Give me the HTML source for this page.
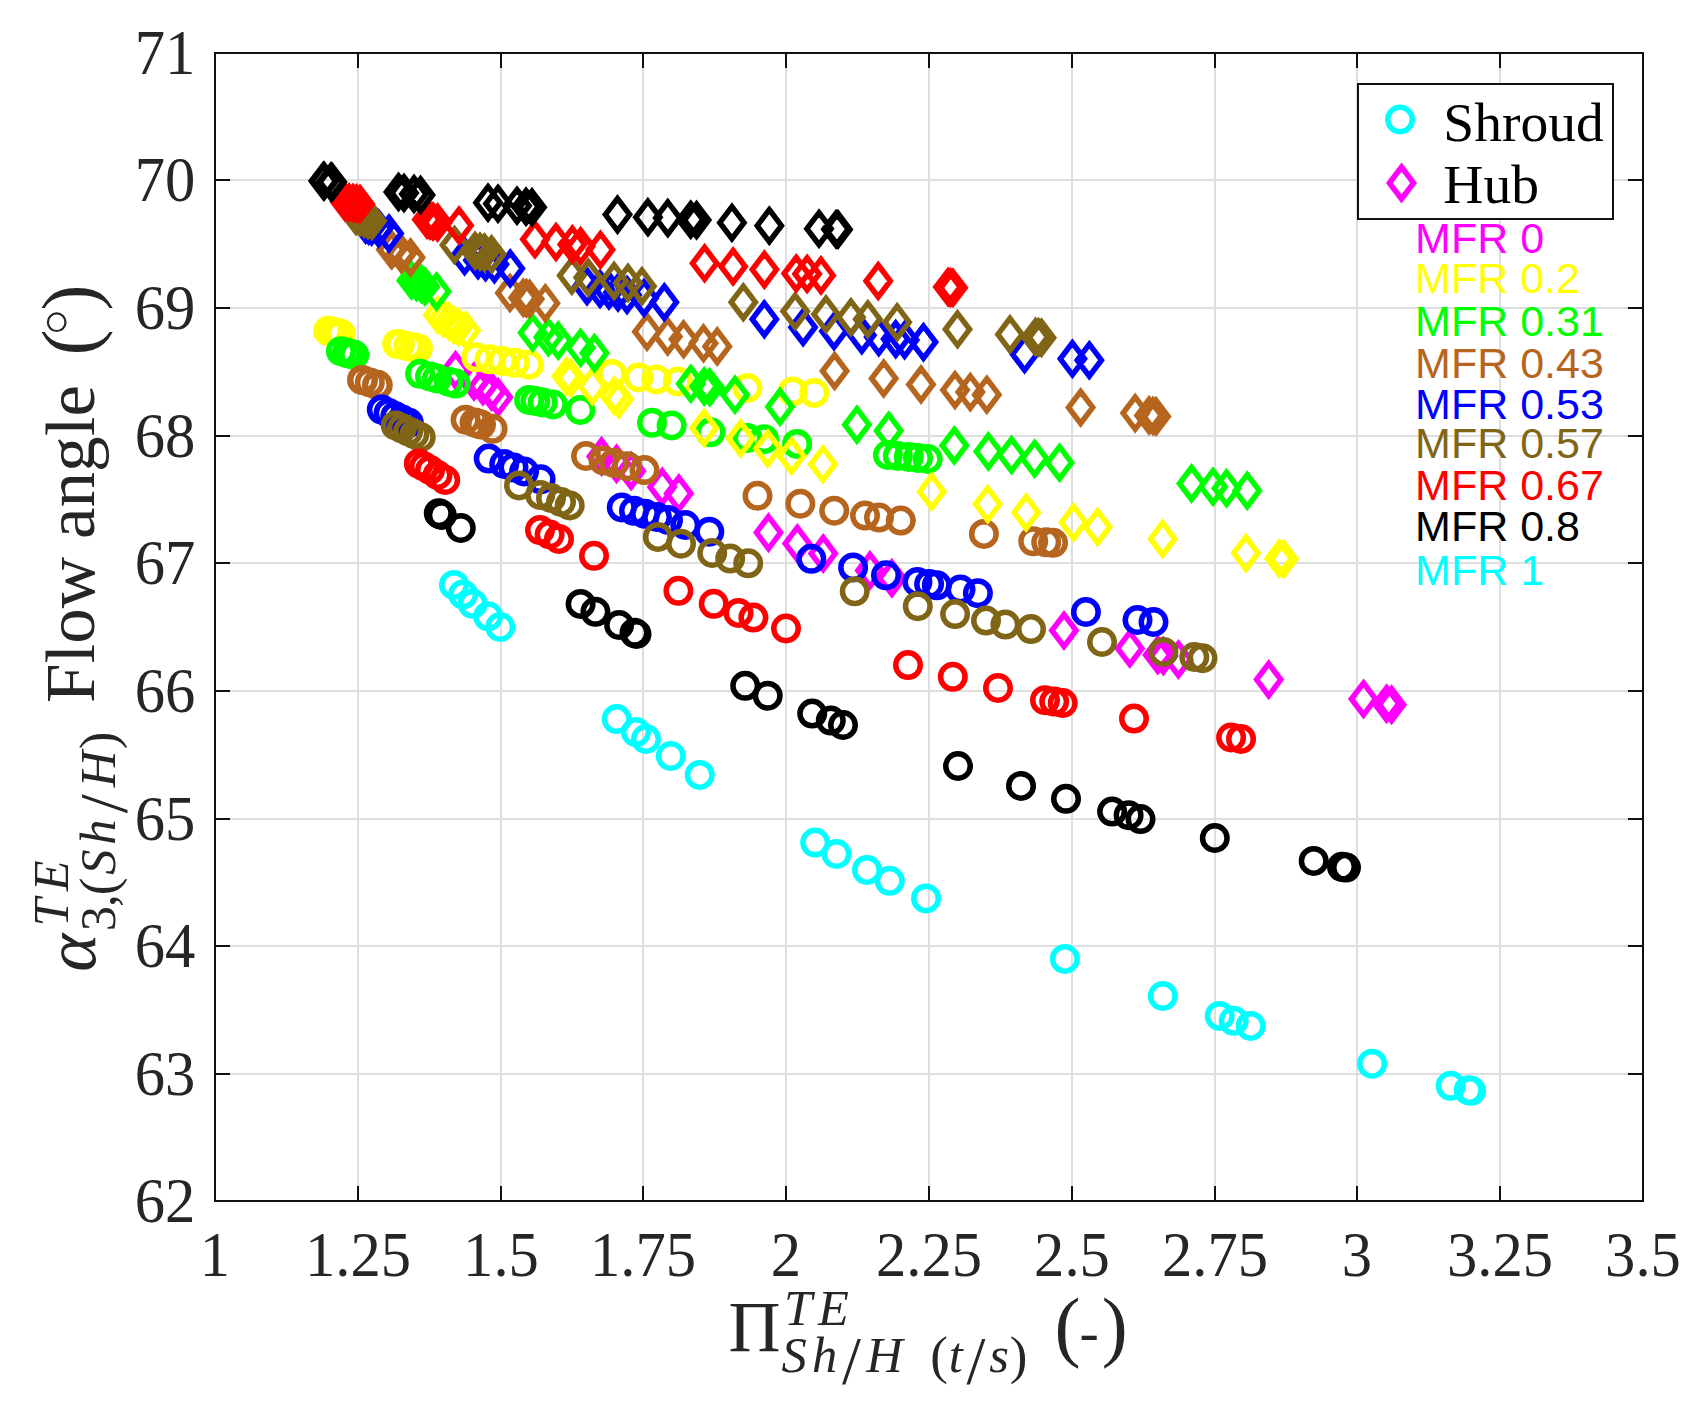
<!DOCTYPE html>
<html lang="en"><head><meta charset="utf-8"><title>Flow angle vs pressure ratio</title>
<style>html,body{margin:0;padding:0;background:#fff}svg{display:block}.t{font-family:"Liberation Serif",serif;font-size:63.5px;fill:#262626}.l{font-family:"Liberation Serif",serif;fill:#262626}.s{font-family:"Liberation Sans",sans-serif;font-size:43px}.g{stroke:#dedede;stroke-width:2;shape-rendering:crispEdges}.a{stroke:#111;stroke-width:2;fill:none;shape-rendering:crispEdges}.c{fill:none;stroke-width:5.5}.d{fill:none;stroke-width:5.5;stroke-linejoin:miter;stroke-miterlimit:10}</style></head><body>
<svg width="1708" height="1417" viewBox="0 0 1708 1417">
<rect width="1708" height="1417" fill="#fff"/>
<path class="g" d="M358 53.0V1201.0M501 53.0V1201.0M643 53.0V1201.0M786 53.0V1201.0M929 53.0V1201.0M1072 53.0V1201.0M1215 53.0V1201.0M1357 53.0V1201.0M1500 53.0V1201.0M215.0 1074H1643.0M215.0 946H1643.0M215.0 819H1643.0M215.0 691H1643.0M215.0 563H1643.0M215.0 436H1643.0M215.0 308H1643.0M215.0 180H1643.0"/>
<path class="d" stroke="#ff00ff" d="M455.5 354.2l12.1 16.0l-12.1 16.0l-12.1 -16.0zM474.0 365.5l12.1 16.0l-12.1 16.0l-12.1 -16.0zM483.0 370.3l12.1 16.0l-12.1 16.0l-12.1 -16.0zM491.5 375.5l12.1 16.0l-12.1 16.0l-12.1 -16.0zM498.2 381.3l12.1 16.0l-12.1 16.0l-12.1 -16.0zM601.5 440.4l12.1 16.0l-12.1 16.0l-12.1 -16.0zM616.5 447.7l12.1 16.0l-12.1 16.0l-12.1 -16.0zM631.1 455.0l12.1 16.0l-12.1 16.0l-12.1 -16.0zM662.2 470.9l12.1 16.0l-12.1 16.0l-12.1 -16.0zM678.8 477.5l12.1 16.0l-12.1 16.0l-12.1 -16.0zM768.5 516.6l12.1 16.0l-12.1 16.0l-12.1 -16.0zM797.3 527.5l12.1 16.0l-12.1 16.0l-12.1 -16.0zM823.2 537.5l12.1 16.0l-12.1 16.0l-12.1 -16.0zM870.0 554.4l12.1 16.0l-12.1 16.0l-12.1 -16.0zM891.9 562.3l12.1 16.0l-12.1 16.0l-12.1 -16.0zM1064.0 614.5l12.1 16.0l-12.1 16.0l-12.1 -16.0zM1129.8 632.4l12.1 16.0l-12.1 16.0l-12.1 -16.0zM1157.7 639.0l12.1 16.0l-12.1 16.0l-12.1 -16.0zM1163.3 640.0l12.1 16.0l-12.1 16.0l-12.1 -16.0zM1178.4 643.5l12.1 16.0l-12.1 16.0l-12.1 -16.0zM1268.7 663.6l12.1 16.0l-12.1 16.0l-12.1 -16.0zM1363.5 683.0l12.1 16.0l-12.1 16.0l-12.1 -16.0zM1386.6 687.7l12.1 16.0l-12.1 16.0l-12.1 -16.0zM1391.6 688.7l12.1 16.0l-12.1 16.0l-12.1 -16.0z"/>
<g class="c" stroke="#ffff00"><circle cx="328.2" cy="330.8" r="12.25"/><circle cx="331.3" cy="331.5" r="12.25"/><circle cx="334.4" cy="332.2" r="12.25"/><circle cx="337.5" cy="333.0" r="12.25"/><circle cx="340.6" cy="333.7" r="12.25"/><circle cx="397.2" cy="343.9" r="12.25"/><circle cx="399.9" cy="344.5" r="12.25"/><circle cx="408.1" cy="346.3" r="12.25"/><circle cx="413.9" cy="347.5" r="12.25"/><circle cx="417.9" cy="348.4" r="12.25"/><circle cx="476.3" cy="357.3" r="12.25"/><circle cx="489.5" cy="359.3" r="12.25"/><circle cx="502.3" cy="361.0" r="12.25"/><circle cx="514.8" cy="362.8" r="12.25"/><circle cx="528.9" cy="364.7" r="12.25"/><circle cx="612.0" cy="373.9" r="12.25"/><circle cx="638.5" cy="377.4" r="12.25"/><circle cx="656.3" cy="379.4" r="12.25"/><circle cx="677.8" cy="381.4" r="12.25"/><circle cx="747.5" cy="388.0" r="12.25"/><circle cx="792.7" cy="391.4" r="12.25"/><circle cx="814.2" cy="392.9" r="12.25"/></g>
<g class="c" stroke="#00ff00"><circle cx="340.9" cy="351.2" r="12.25"/><circle cx="346.7" cy="352.8" r="12.25"/><circle cx="348.4" cy="353.3" r="12.25"/><circle cx="352.7" cy="354.4" r="12.25"/><circle cx="354.2" cy="354.8" r="12.25"/><circle cx="420.1" cy="373.8" r="12.25"/><circle cx="430.0" cy="376.5" r="12.25"/><circle cx="437.0" cy="378.5" r="12.25"/><circle cx="448.7" cy="381.7" r="12.25"/><circle cx="455.7" cy="383.6" r="12.25"/><circle cx="529.1" cy="399.9" r="12.25"/><circle cx="535.3" cy="401.0" r="12.25"/><circle cx="542.6" cy="402.5" r="12.25"/><circle cx="552.9" cy="404.5" r="12.25"/><circle cx="580.3" cy="410.0" r="12.25"/><circle cx="652.0" cy="422.8" r="12.25"/><circle cx="671.6" cy="425.5" r="12.25"/><circle cx="710.5" cy="432.3" r="12.25"/><circle cx="747.5" cy="437.9" r="12.25"/><circle cx="764.1" cy="439.2" r="12.25"/><circle cx="797.1" cy="443.9" r="12.25"/><circle cx="887.9" cy="455.0" r="12.25"/><circle cx="897.8" cy="455.9" r="12.25"/><circle cx="908.8" cy="456.9" r="12.25"/><circle cx="918.0" cy="458.0" r="12.25"/><circle cx="927.7" cy="459.0" r="12.25"/></g>
<g class="c" stroke="#b5651d"><circle cx="362.0" cy="379.9" r="12.25"/><circle cx="363.0" cy="380.2" r="12.25"/><circle cx="369.8" cy="382.4" r="12.25"/><circle cx="377.0" cy="384.8" r="12.25"/><circle cx="377.8" cy="385.0" r="12.25"/><circle cx="465.6" cy="419.7" r="12.25"/><circle cx="474.5" cy="422.5" r="12.25"/><circle cx="477.5" cy="423.5" r="12.25"/><circle cx="481.0" cy="424.6" r="12.25"/><circle cx="492.6" cy="428.8" r="12.25"/><circle cx="586.0" cy="456.0" r="12.25"/><circle cx="603.5" cy="460.4" r="12.25"/><circle cx="614.0" cy="463.0" r="12.25"/><circle cx="627.3" cy="466.2" r="12.25"/><circle cx="644.5" cy="470.1" r="12.25"/><circle cx="757.5" cy="495.8" r="12.25"/><circle cx="800.3" cy="503.7" r="12.25"/><circle cx="834.2" cy="510.7" r="12.25"/><circle cx="865.0" cy="515.6" r="12.25"/><circle cx="879.0" cy="517.6" r="12.25"/><circle cx="900.8" cy="520.6" r="12.25"/><circle cx="983.9" cy="533.9" r="12.25"/><circle cx="1033.2" cy="541.3" r="12.25"/><circle cx="1046.2" cy="542.3" r="12.25"/><circle cx="1053.0" cy="542.8" r="12.25"/></g>
<g class="c" stroke="#0000ff"><circle cx="381.8" cy="409.6" r="12.25"/><circle cx="388.6" cy="412.9" r="12.25"/><circle cx="395.3" cy="416.2" r="12.25"/><circle cx="402.1" cy="419.5" r="12.25"/><circle cx="408.8" cy="422.8" r="12.25"/><circle cx="488.7" cy="458.6" r="12.25"/><circle cx="504.2" cy="464.0" r="12.25"/><circle cx="513.5" cy="467.5" r="12.25"/><circle cx="524.1" cy="471.5" r="12.25"/><circle cx="540.6" cy="479.3" r="12.25"/><circle cx="621.8" cy="507.4" r="12.25"/><circle cx="634.0" cy="510.8" r="12.25"/><circle cx="645.0" cy="513.8" r="12.25"/><circle cx="657.0" cy="517.0" r="12.25"/><circle cx="668.0" cy="520.0" r="12.25"/><circle cx="685.3" cy="525.0" r="12.25"/><circle cx="709.3" cy="531.7" r="12.25"/><circle cx="811.3" cy="558.8" r="12.25"/><circle cx="853.1" cy="567.4" r="12.25"/><circle cx="886.0" cy="575.3" r="12.25"/><circle cx="917.4" cy="581.9" r="12.25"/><circle cx="929.1" cy="584.0" r="12.25"/><circle cx="936.8" cy="585.3" r="12.25"/><circle cx="960.5" cy="589.5" r="12.25"/><circle cx="977.9" cy="593.2" r="12.25"/><circle cx="1085.9" cy="612.0" r="12.25"/><circle cx="1137.5" cy="620.0" r="12.25"/><circle cx="1153.5" cy="622.0" r="12.25"/></g>
<g class="c" stroke="#806517"><circle cx="395.7" cy="425.4" r="12.25"/><circle cx="401.9" cy="428.3" r="12.25"/><circle cx="408.2" cy="431.3" r="12.25"/><circle cx="414.4" cy="434.2" r="12.25"/><circle cx="420.7" cy="437.2" r="12.25"/><circle cx="519.0" cy="485.4" r="12.25"/><circle cx="540.2" cy="494.9" r="12.25"/><circle cx="551.0" cy="498.0" r="12.25"/><circle cx="561.0" cy="502.0" r="12.25"/><circle cx="569.7" cy="505.4" r="12.25"/><circle cx="657.9" cy="536.9" r="12.25"/><circle cx="681.0" cy="543.7" r="12.25"/><circle cx="712.2" cy="553.0" r="12.25"/><circle cx="730.2" cy="558.6" r="12.25"/><circle cx="748.2" cy="563.3" r="12.25"/><circle cx="854.7" cy="591.3" r="12.25"/><circle cx="917.8" cy="606.2" r="12.25"/><circle cx="955.1" cy="614.1" r="12.25"/><circle cx="986.0" cy="620.6" r="12.25"/><circle cx="1005.4" cy="624.6" r="12.25"/><circle cx="1031.0" cy="629.1" r="12.25"/><circle cx="1102.0" cy="642.0" r="12.25"/><circle cx="1163.4" cy="651.9" r="12.25"/><circle cx="1194.3" cy="657.0" r="12.25"/><circle cx="1202.5" cy="658.2" r="12.25"/></g>
<g class="c" stroke="#ff0000"><circle cx="418.8" cy="463.6" r="12.25"/><circle cx="424.0" cy="466.5" r="12.25"/><circle cx="430.0" cy="470.0" r="12.25"/><circle cx="437.5" cy="475.0" r="12.25"/><circle cx="445.2" cy="480.0" r="12.25"/><circle cx="540.0" cy="530.1" r="12.25"/><circle cx="549.6" cy="534.5" r="12.25"/><circle cx="559.0" cy="538.9" r="12.25"/><circle cx="594.0" cy="555.8" r="12.25"/><circle cx="678.4" cy="590.8" r="12.25"/><circle cx="713.7" cy="603.8" r="12.25"/><circle cx="738.5" cy="612.9" r="12.25"/><circle cx="753.4" cy="617.6" r="12.25"/><circle cx="786.0" cy="628.5" r="12.25"/><circle cx="908.0" cy="665.1" r="12.25"/><circle cx="952.8" cy="676.8" r="12.25"/><circle cx="998.0" cy="688.0" r="12.25"/><circle cx="1045.0" cy="700.2" r="12.25"/><circle cx="1054.2" cy="701.6" r="12.25"/><circle cx="1062.7" cy="703.0" r="12.25"/><circle cx="1134.0" cy="718.6" r="12.25"/><circle cx="1231.1" cy="737.5" r="12.25"/><circle cx="1241.0" cy="738.9" r="12.25"/></g>
<g class="c" stroke="#000000"><circle cx="438.8" cy="513.2" r="12.25"/><circle cx="439.8" cy="513.8" r="12.25"/><circle cx="440.8" cy="514.4" r="12.25"/><circle cx="441.8" cy="515.0" r="12.25"/><circle cx="460.8" cy="528.0" r="12.25"/><circle cx="580.6" cy="603.9" r="12.25"/><circle cx="595.4" cy="611.8" r="12.25"/><circle cx="619.1" cy="625.0" r="12.25"/><circle cx="634.5" cy="632.8" r="12.25"/><circle cx="636.5" cy="634.0" r="12.25"/><circle cx="745.2" cy="685.8" r="12.25"/><circle cx="767.7" cy="695.7" r="12.25"/><circle cx="812.2" cy="713.6" r="12.25"/><circle cx="830.8" cy="720.6" r="12.25"/><circle cx="843.0" cy="725.0" r="12.25"/><circle cx="958.0" cy="766.0" r="12.25"/><circle cx="1021.0" cy="785.9" r="12.25"/><circle cx="1066.0" cy="798.8" r="12.25"/><circle cx="1112.1" cy="811.6" r="12.25"/><circle cx="1128.6" cy="815.2" r="12.25"/><circle cx="1140.5" cy="819.1" r="12.25"/><circle cx="1214.8" cy="838.0" r="12.25"/><circle cx="1313.7" cy="860.9" r="12.25"/><circle cx="1342.0" cy="866.8" r="12.25"/><circle cx="1344.0" cy="867.2" r="12.25"/><circle cx="1346.0" cy="867.6" r="12.25"/></g>
<g class="c" stroke="#00ffff"><circle cx="454.0" cy="584.9" r="12.25"/><circle cx="463.1" cy="594.4" r="12.25"/><circle cx="472.7" cy="603.8" r="12.25"/><circle cx="488.2" cy="616.3" r="12.25"/><circle cx="500.2" cy="627.0" r="12.25"/><circle cx="616.7" cy="719.1" r="12.25"/><circle cx="636.0" cy="732.1" r="12.25"/><circle cx="646.0" cy="739.0" r="12.25"/><circle cx="670.8" cy="756.0" r="12.25"/><circle cx="699.7" cy="774.9" r="12.25"/><circle cx="815.2" cy="842.6" r="12.25"/><circle cx="836.5" cy="854.0" r="12.25"/><circle cx="867.0" cy="869.9" r="12.25"/><circle cx="889.7" cy="880.8" r="12.25"/><circle cx="926.0" cy="898.4" r="12.25"/><circle cx="1064.9" cy="958.9" r="12.25"/><circle cx="1162.8" cy="996.0" r="12.25"/><circle cx="1219.7" cy="1015.9" r="12.25"/><circle cx="1233.7" cy="1020.8" r="12.25"/><circle cx="1250.7" cy="1025.9" r="12.25"/><circle cx="1372.1" cy="1063.7" r="12.25"/><circle cx="1450.7" cy="1085.8" r="12.25"/><circle cx="1468.7" cy="1090.2" r="12.25"/><circle cx="1471.0" cy="1090.8" r="12.25"/></g>
<path class="d" stroke="#ffff00" d="M438.0 299.0l12.1 16.0l-12.1 16.0l-12.1 -16.0zM443.5 302.3l12.1 16.0l-12.1 16.0l-12.1 -16.0zM449.0 305.5l12.1 16.0l-12.1 16.0l-12.1 -16.0zM453.6 308.7l12.1 16.0l-12.1 16.0l-12.1 -16.0zM458.5 311.0l12.1 16.0l-12.1 16.0l-12.1 -16.0zM466.0 314.5l12.1 16.0l-12.1 16.0l-12.1 -16.0zM566.6 360.3l12.1 16.0l-12.1 16.0l-12.1 -16.0zM571.0 362.0l12.1 16.0l-12.1 16.0l-12.1 -16.0zM592.4 370.3l12.1 16.0l-12.1 16.0l-12.1 -16.0zM614.2 379.6l12.1 16.0l-12.1 16.0l-12.1 -16.0zM619.0 383.2l12.1 16.0l-12.1 16.0l-12.1 -16.0zM704.2 412.0l12.1 16.0l-12.1 16.0l-12.1 -16.0zM740.7 422.5l12.1 16.0l-12.1 16.0l-12.1 -16.0zM767.8 432.5l12.1 16.0l-12.1 16.0l-12.1 -16.0zM791.6 440.0l12.1 16.0l-12.1 16.0l-12.1 -16.0zM822.9 448.2l12.1 16.0l-12.1 16.0l-12.1 -16.0zM931.7 475.7l12.1 16.0l-12.1 16.0l-12.1 -16.0zM987.7 488.1l12.1 16.0l-12.1 16.0l-12.1 -16.0zM1026.2 496.5l12.1 16.0l-12.1 16.0l-12.1 -16.0zM1073.6 506.4l12.1 16.0l-12.1 16.0l-12.1 -16.0zM1097.6 511.0l12.1 16.0l-12.1 16.0l-12.1 -16.0zM1162.7 522.9l12.1 16.0l-12.1 16.0l-12.1 -16.0zM1246.0 537.1l12.1 16.0l-12.1 16.0l-12.1 -16.0zM1279.3 542.5l12.1 16.0l-12.1 16.0l-12.1 -16.0zM1283.8 543.1l12.1 16.0l-12.1 16.0l-12.1 -16.0z"/>
<path class="d" stroke="#00ff00" d="M411.5 264.5l12.1 16.0l-12.1 16.0l-12.1 -16.0zM416.5 266.0l12.1 16.0l-12.1 16.0l-12.1 -16.0zM421.5 268.0l12.1 16.0l-12.1 16.0l-12.1 -16.0zM425.0 270.5l12.1 16.0l-12.1 16.0l-12.1 -16.0zM436.5 275.5l12.1 16.0l-12.1 16.0l-12.1 -16.0zM532.7 316.8l12.1 16.0l-12.1 16.0l-12.1 -16.0zM548.4 321.3l12.1 16.0l-12.1 16.0l-12.1 -16.0zM558.2 324.6l12.1 16.0l-12.1 16.0l-12.1 -16.0zM580.5 331.8l12.1 16.0l-12.1 16.0l-12.1 -16.0zM594.5 337.1l12.1 16.0l-12.1 16.0l-12.1 -16.0zM690.8 367.8l12.1 16.0l-12.1 16.0l-12.1 -16.0zM704.2 370.4l12.1 16.0l-12.1 16.0l-12.1 -16.0zM709.8 371.3l12.1 16.0l-12.1 16.0l-12.1 -16.0zM735.0 378.8l12.1 16.0l-12.1 16.0l-12.1 -16.0zM780.0 390.8l12.1 16.0l-12.1 16.0l-12.1 -16.0zM856.9 408.7l12.1 16.0l-12.1 16.0l-12.1 -16.0zM888.7 414.7l12.1 16.0l-12.1 16.0l-12.1 -16.0zM954.3 429.5l12.1 16.0l-12.1 16.0l-12.1 -16.0zM988.4 435.4l12.1 16.0l-12.1 16.0l-12.1 -16.0zM1011.5 439.0l12.1 16.0l-12.1 16.0l-12.1 -16.0zM1034.6 442.7l12.1 16.0l-12.1 16.0l-12.1 -16.0zM1059.5 446.7l12.1 16.0l-12.1 16.0l-12.1 -16.0zM1191.5 467.5l12.1 16.0l-12.1 16.0l-12.1 -16.0zM1213.0 470.7l12.1 16.0l-12.1 16.0l-12.1 -16.0zM1226.5 472.3l12.1 16.0l-12.1 16.0l-12.1 -16.0zM1247.2 474.7l12.1 16.0l-12.1 16.0l-12.1 -16.0z"/>
<path class="d" stroke="#b5651d" d="M391.0 233.5l12.1 16.0l-12.1 16.0l-12.1 -16.0zM392.0 233.9l12.1 16.0l-12.1 16.0l-12.1 -16.0zM400.8 237.5l12.1 16.0l-12.1 16.0l-12.1 -16.0zM401.8 237.9l12.1 16.0l-12.1 16.0l-12.1 -16.0zM410.5 241.5l12.1 16.0l-12.1 16.0l-12.1 -16.0zM510.0 277.0l12.1 16.0l-12.1 16.0l-12.1 -16.0zM523.2 281.7l12.1 16.0l-12.1 16.0l-12.1 -16.0zM526.5 282.3l12.1 16.0l-12.1 16.0l-12.1 -16.0zM529.6 282.9l12.1 16.0l-12.1 16.0l-12.1 -16.0zM545.3 287.2l12.1 16.0l-12.1 16.0l-12.1 -16.0zM647.0 315.7l12.1 16.0l-12.1 16.0l-12.1 -16.0zM667.7 320.4l12.1 16.0l-12.1 16.0l-12.1 -16.0zM683.6 323.3l12.1 16.0l-12.1 16.0l-12.1 -16.0zM703.5 327.3l12.1 16.0l-12.1 16.0l-12.1 -16.0zM717.2 330.4l12.1 16.0l-12.1 16.0l-12.1 -16.0zM834.6 355.0l12.1 16.0l-12.1 16.0l-12.1 -16.0zM883.7 362.5l12.1 16.0l-12.1 16.0l-12.1 -16.0zM921.0 368.5l12.1 16.0l-12.1 16.0l-12.1 -16.0zM955.0 374.0l12.1 16.0l-12.1 16.0l-12.1 -16.0zM970.3 376.1l12.1 16.0l-12.1 16.0l-12.1 -16.0zM986.8 378.7l12.1 16.0l-12.1 16.0l-12.1 -16.0zM1080.6 391.5l12.1 16.0l-12.1 16.0l-12.1 -16.0zM1135.2 397.1l12.1 16.0l-12.1 16.0l-12.1 -16.0zM1149.1 399.4l12.1 16.0l-12.1 16.0l-12.1 -16.0zM1153.0 400.0l12.1 16.0l-12.1 16.0l-12.1 -16.0zM1156.1 400.4l12.1 16.0l-12.1 16.0l-12.1 -16.0z"/>
<path class="d" stroke="#0000ff" d="M365.6 208.5l12.1 16.0l-12.1 16.0l-12.1 -16.0zM368.6 209.5l12.1 16.0l-12.1 16.0l-12.1 -16.0zM371.6 210.5l12.1 16.0l-12.1 16.0l-12.1 -16.0zM378.6 212.5l12.1 16.0l-12.1 16.0l-12.1 -16.0zM389.0 217.5l12.1 16.0l-12.1 16.0l-12.1 -16.0zM464.6 240.3l12.1 16.0l-12.1 16.0l-12.1 -16.0zM478.0 244.3l12.1 16.0l-12.1 16.0l-12.1 -16.0zM485.5 246.3l12.1 16.0l-12.1 16.0l-12.1 -16.0zM494.4 248.3l12.1 16.0l-12.1 16.0l-12.1 -16.0zM510.2 252.5l12.1 16.0l-12.1 16.0l-12.1 -16.0zM587.0 270.2l12.1 16.0l-12.1 16.0l-12.1 -16.0zM600.0 273.0l12.1 16.0l-12.1 16.0l-12.1 -16.0zM609.0 274.5l12.1 16.0l-12.1 16.0l-12.1 -16.0zM618.0 276.5l12.1 16.0l-12.1 16.0l-12.1 -16.0zM627.0 279.0l12.1 16.0l-12.1 16.0l-12.1 -16.0zM644.0 282.0l12.1 16.0l-12.1 16.0l-12.1 -16.0zM664.3 286.2l12.1 16.0l-12.1 16.0l-12.1 -16.0zM764.3 303.2l12.1 16.0l-12.1 16.0l-12.1 -16.0zM803.1 311.2l12.1 16.0l-12.1 16.0l-12.1 -16.0zM834.0 315.2l12.1 16.0l-12.1 16.0l-12.1 -16.0zM861.8 319.2l12.1 16.0l-12.1 16.0l-12.1 -16.0zM878.8 321.1l12.1 16.0l-12.1 16.0l-12.1 -16.0zM895.7 323.1l12.1 16.0l-12.1 16.0l-12.1 -16.0zM904.6 324.1l12.1 16.0l-12.1 16.0l-12.1 -16.0zM923.5 326.1l12.1 16.0l-12.1 16.0l-12.1 -16.0zM1024.6 338.3l12.1 16.0l-12.1 16.0l-12.1 -16.0zM1072.4 342.8l12.1 16.0l-12.1 16.0l-12.1 -16.0zM1089.3 344.2l12.1 16.0l-12.1 16.0l-12.1 -16.0z"/>
<path class="d" stroke="#806517" d="M356.0 200.0l12.1 16.0l-12.1 16.0l-12.1 -16.0zM360.0 201.0l12.1 16.0l-12.1 16.0l-12.1 -16.0zM364.0 202.5l12.1 16.0l-12.1 16.0l-12.1 -16.0zM368.0 204.0l12.1 16.0l-12.1 16.0l-12.1 -16.0zM372.0 205.0l12.1 16.0l-12.1 16.0l-12.1 -16.0zM454.5 229.0l12.1 16.0l-12.1 16.0l-12.1 -16.0zM475.1 234.8l12.1 16.0l-12.1 16.0l-12.1 -16.0zM480.0 235.7l12.1 16.0l-12.1 16.0l-12.1 -16.0zM484.5 236.6l12.1 16.0l-12.1 16.0l-12.1 -16.0zM491.6 238.3l12.1 16.0l-12.1 16.0l-12.1 -16.0zM571.8 259.6l12.1 16.0l-12.1 16.0l-12.1 -16.0zM588.3 261.6l12.1 16.0l-12.1 16.0l-12.1 -16.0zM614.1 264.9l12.1 16.0l-12.1 16.0l-12.1 -16.0zM628.0 266.9l12.1 16.0l-12.1 16.0l-12.1 -16.0zM641.9 270.2l12.1 16.0l-12.1 16.0l-12.1 -16.0zM743.3 286.2l12.1 16.0l-12.1 16.0l-12.1 -16.0zM795.2 295.3l12.1 16.0l-12.1 16.0l-12.1 -16.0zM826.0 298.3l12.1 16.0l-12.1 16.0l-12.1 -16.0zM850.9 301.2l12.1 16.0l-12.1 16.0l-12.1 -16.0zM867.8 303.2l12.1 16.0l-12.1 16.0l-12.1 -16.0zM897.1 306.2l12.1 16.0l-12.1 16.0l-12.1 -16.0zM957.5 313.3l12.1 16.0l-12.1 16.0l-12.1 -16.0zM1010.0 318.4l12.1 16.0l-12.1 16.0l-12.1 -16.0zM1035.5 321.0l12.1 16.0l-12.1 16.0l-12.1 -16.0zM1038.5 321.3l12.1 16.0l-12.1 16.0l-12.1 -16.0zM1041.5 321.7l12.1 16.0l-12.1 16.0l-12.1 -16.0z"/>
<path class="d" stroke="#ff0000" d="M345.0 186.0l12.1 16.0l-12.1 16.0l-12.1 -16.0zM349.0 186.5l12.1 16.0l-12.1 16.0l-12.1 -16.0zM353.0 187.0l12.1 16.0l-12.1 16.0l-12.1 -16.0zM356.5 187.5l12.1 16.0l-12.1 16.0l-12.1 -16.0zM360.0 188.0l12.1 16.0l-12.1 16.0l-12.1 -16.0zM427.0 203.5l12.1 16.0l-12.1 16.0l-12.1 -16.0zM430.0 204.5l12.1 16.0l-12.1 16.0l-12.1 -16.0zM433.0 205.5l12.1 16.0l-12.1 16.0l-12.1 -16.0zM437.5 206.5l12.1 16.0l-12.1 16.0l-12.1 -16.0zM459.0 209.5l12.1 16.0l-12.1 16.0l-12.1 -16.0zM534.9 223.3l12.1 16.0l-12.1 16.0l-12.1 -16.0zM556.0 226.0l12.1 16.0l-12.1 16.0l-12.1 -16.0zM572.4 228.4l12.1 16.0l-12.1 16.0l-12.1 -16.0zM580.6 230.2l12.1 16.0l-12.1 16.0l-12.1 -16.0zM600.5 233.8l12.1 16.0l-12.1 16.0l-12.1 -16.0zM704.6 247.3l12.1 16.0l-12.1 16.0l-12.1 -16.0zM733.1 250.5l12.1 16.0l-12.1 16.0l-12.1 -16.0zM764.4 253.6l12.1 16.0l-12.1 16.0l-12.1 -16.0zM796.2 257.5l12.1 16.0l-12.1 16.0l-12.1 -16.0zM807.1 257.9l12.1 16.0l-12.1 16.0l-12.1 -16.0zM821.0 259.4l12.1 16.0l-12.1 16.0l-12.1 -16.0zM878.2 265.0l12.1 16.0l-12.1 16.0l-12.1 -16.0zM948.0 271.0l12.1 16.0l-12.1 16.0l-12.1 -16.0zM950.5 271.5l12.1 16.0l-12.1 16.0l-12.1 -16.0zM953.0 271.8l12.1 16.0l-12.1 16.0l-12.1 -16.0z"/>
<path class="d" stroke="#000000" d="M323.4 165.0l12.1 16.0l-12.1 16.0l-12.1 -16.0zM324.2 165.1l12.1 16.0l-12.1 16.0l-12.1 -16.0zM330.8 165.9l12.1 16.0l-12.1 16.0l-12.1 -16.0zM331.5 166.0l12.1 16.0l-12.1 16.0l-12.1 -16.0zM332.2 166.1l12.1 16.0l-12.1 16.0l-12.1 -16.0zM398.5 176.0l12.1 16.0l-12.1 16.0l-12.1 -16.0zM404.0 177.0l12.1 16.0l-12.1 16.0l-12.1 -16.0zM414.0 178.0l12.1 16.0l-12.1 16.0l-12.1 -16.0zM420.5 179.0l12.1 16.0l-12.1 16.0l-12.1 -16.0zM488.0 186.7l12.1 16.0l-12.1 16.0l-12.1 -16.0zM498.0 187.7l12.1 16.0l-12.1 16.0l-12.1 -16.0zM517.0 189.7l12.1 16.0l-12.1 16.0l-12.1 -16.0zM526.0 190.7l12.1 16.0l-12.1 16.0l-12.1 -16.0zM532.0 191.3l12.1 16.0l-12.1 16.0l-12.1 -16.0zM617.5 198.6l12.1 16.0l-12.1 16.0l-12.1 -16.0zM647.9 201.3l12.1 16.0l-12.1 16.0l-12.1 -16.0zM667.8 202.1l12.1 16.0l-12.1 16.0l-12.1 -16.0zM690.7 203.7l12.1 16.0l-12.1 16.0l-12.1 -16.0zM696.6 204.1l12.1 16.0l-12.1 16.0l-12.1 -16.0zM731.9 206.7l12.1 16.0l-12.1 16.0l-12.1 -16.0zM769.3 209.7l12.1 16.0l-12.1 16.0l-12.1 -16.0zM819.0 212.7l12.1 16.0l-12.1 16.0l-12.1 -16.0zM836.0 213.2l12.1 16.0l-12.1 16.0l-12.1 -16.0zM838.0 213.4l12.1 16.0l-12.1 16.0l-12.1 -16.0z"/>
<path class="a" d="M215.0 53.0H1643.0V1201.0H215.0zM358 1201.0v-15M358 53.0v15M501 1201.0v-15M501 53.0v15M643 1201.0v-15M643 53.0v15M786 1201.0v-15M786 53.0v15M929 1201.0v-15M929 53.0v15M1072 1201.0v-15M1072 53.0v15M1215 1201.0v-15M1215 53.0v15M1357 1201.0v-15M1357 53.0v15M1500 1201.0v-15M1500 53.0v15M215.0 1074h15M1643.0 1074h-15M215.0 946h15M1643.0 946h-15M215.0 819h15M1643.0 819h-15M215.0 691h15M1643.0 691h-15M215.0 563h15M1643.0 563h-15M215.0 436h15M1643.0 436h-15M215.0 308h15M1643.0 308h-15M215.0 180h15M1643.0 180h-15"/>
<text class="t" transform="translate(215.0 1276) scale(0.955 1)" text-anchor="middle">1</text>
<text class="t" transform="translate(358.0 1276) scale(0.955 1)" text-anchor="middle">1.25</text>
<text class="t" transform="translate(501.0 1276) scale(0.955 1)" text-anchor="middle">1.5</text>
<text class="t" transform="translate(643.0 1276) scale(0.955 1)" text-anchor="middle">1.75</text>
<text class="t" transform="translate(786.0 1276) scale(0.955 1)" text-anchor="middle">2</text>
<text class="t" transform="translate(929.0 1276) scale(0.955 1)" text-anchor="middle">2.25</text>
<text class="t" transform="translate(1072.0 1276) scale(0.955 1)" text-anchor="middle">2.5</text>
<text class="t" transform="translate(1215.0 1276) scale(0.955 1)" text-anchor="middle">2.75</text>
<text class="t" transform="translate(1357.0 1276) scale(0.955 1)" text-anchor="middle">3</text>
<text class="t" transform="translate(1500.0 1276) scale(0.955 1)" text-anchor="middle">3.25</text>
<text class="t" transform="translate(1643.0 1276) scale(0.955 1)" text-anchor="middle">3.5</text>
<text class="t" transform="translate(195.3 1221.6) scale(0.955 1)" text-anchor="end">62</text>
<text class="t" transform="translate(195.3 1094.6) scale(0.955 1)" text-anchor="end">63</text>
<text class="t" transform="translate(195.3 966.6) scale(0.955 1)" text-anchor="end">64</text>
<text class="t" transform="translate(195.3 839.6) scale(0.955 1)" text-anchor="end">65</text>
<text class="t" transform="translate(195.3 711.6) scale(0.955 1)" text-anchor="end">66</text>
<text class="t" transform="translate(195.3 583.6) scale(0.955 1)" text-anchor="end">67</text>
<text class="t" transform="translate(195.3 456.6) scale(0.955 1)" text-anchor="end">68</text>
<text class="t" transform="translate(195.3 328.6) scale(0.955 1)" text-anchor="end">69</text>
<text class="t" transform="translate(195.3 200.6) scale(0.955 1)" text-anchor="end">70</text>
<text class="t" transform="translate(195.3 73.6) scale(0.955 1)" text-anchor="end">71</text>
<rect x="1358" y="84" width="255" height="135" fill="#fff" stroke="#111" stroke-width="2" shape-rendering="crispEdges"/>
<circle class="c" stroke="#00ffff" cx="1400" cy="119.5" r="12.25"/>
<path class="d" stroke="#ff00ff" d="M1401.5 167.0l12.1 16.0l-12.1 16.0l-12.1 -16.0z"/>
<text class="l" x="1443.3" y="141.2" font-size="55.5" fill="#000" style="fill:#000">Shroud</text>
<text class="l" x="1443.3" y="202.5" font-size="55.5" style="fill:#000">Hub</text>
<text class="s" x="1415.1" y="253.3" fill="#ff00ff">MFR 0</text>
<text class="s" x="1415.1" y="292.7" fill="#ffff00">MFR 0.2</text>
<text class="s" x="1415.1" y="336.3" fill="#00ff00">MFR 0.31</text>
<text class="s" x="1415.1" y="377.8" fill="#b5651d">MFR 0.43</text>
<text class="s" x="1415.1" y="419.3" fill="#0000ff">MFR 0.53</text>
<text class="s" x="1415.1" y="458.4" fill="#806517">MFR 0.57</text>
<text class="s" x="1415.1" y="499.9" fill="#ff0000">MFR 0.67</text>
<text class="s" x="1415.1" y="541.3" fill="#000000">MFR 0.8</text>
<text class="s" x="1415.1" y="585.2" fill="#00ffff">MFR 1</text>
<g class="l">
<text x="754.5" y="1350.6" font-size="72" text-anchor="middle">Π</text>
<text x="798.0" y="1325.0" font-size="50.5" text-anchor="middle" font-style="italic">T</text>
<text x="833.4" y="1325.0" font-size="50.5" text-anchor="middle" font-style="italic">E</text>
<text x="794.2" y="1372.2" font-size="50.5" text-anchor="middle" font-style="italic">S</text>
<text x="824.6" y="1372.2" font-size="50.5" text-anchor="middle" font-style="italic">h</text>
<text x="851.5" y="1382.7" font-size="68" text-anchor="middle">/</text>
<text x="884.5" y="1372.2" font-size="50.5" text-anchor="middle" font-style="italic">H</text>
<text x="939.0" y="1373.4" font-size="53" text-anchor="middle">(</text>
<text x="955.8" y="1372.2" font-size="50.5" text-anchor="middle" font-style="italic">t</text>
<text x="976.0" y="1382.7" font-size="68" text-anchor="middle">/</text>
<text x="999.0" y="1372.2" font-size="50.5" text-anchor="middle" font-style="italic">s</text>
<text x="1018.5" y="1373.4" font-size="53" text-anchor="middle">)</text>
<text x="1067.6" y="1352.0" font-size="78" text-anchor="middle">(</text>
<text x="1089.2" y="1351.2" font-size="58" text-anchor="middle">-</text>
<text x="1114.8" y="1352.0" font-size="78" text-anchor="middle">)</text>
</g>
<g class="l" transform="rotate(-90)">
<text x="-952.8" y="94.5" font-size="72.5" text-anchor="middle" font-style="italic">α</text>
<text x="-912.4" y="68.0" font-size="50.5" text-anchor="middle" font-style="italic">T</text>
<text x="-875.9" y="68.0" font-size="50.5" text-anchor="middle" font-style="italic">E</text>
<text x="-918.5" y="115.2" font-size="50.5" text-anchor="middle">3</text>
<text x="-900.7" y="115.2" font-size="50.5" text-anchor="middle">,</text>
<text x="-886.3" y="116.4" font-size="53" text-anchor="middle">(</text>
<text x="-862.2" y="115.2" font-size="50.5" text-anchor="middle" font-style="italic">S</text>
<text x="-832.1" y="115.2" font-size="50.5" text-anchor="middle" font-style="italic">h</text>
<text x="-803.9" y="125.7" font-size="68" text-anchor="middle">/</text>
<text x="-769.0" y="115.2" font-size="50.5" text-anchor="middle" font-style="italic">H</text>
<text x="-740.4" y="116.4" font-size="53" text-anchor="middle">)</text>
<text x="-342.6" y="95.5" font-size="78" text-anchor="middle">(</text>
<text x="-297.4" y="95.5" font-size="78" text-anchor="middle">)</text>
<text x="-703" y="94" font-size="69.4" textLength="318" lengthAdjust="spacingAndGlyphs">Flow angle</text>
<circle cx="-322.2" cy="56.7" r="8.8" fill="none" stroke="#262626" stroke-width="2.2"/>
</g>
</svg></body></html>
